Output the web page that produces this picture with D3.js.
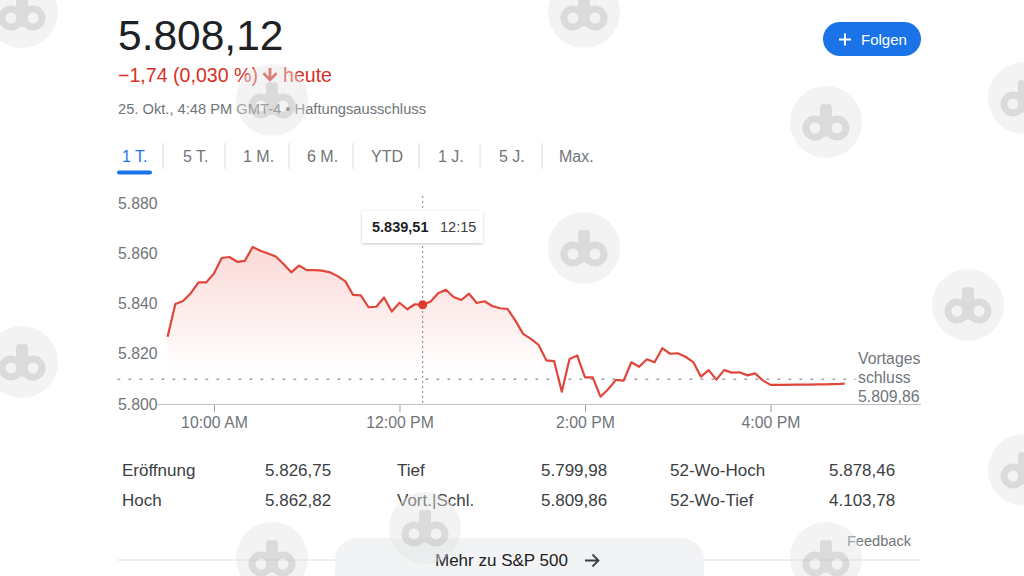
<!DOCTYPE html>
<html><head><meta charset="utf-8">
<script src="https://cdn.jsdelivr.net/npm/d3@7"></script>
<style>
html,body{margin:0;padding:0;background:#fff;}
svg{display:block;font-family:Arial,"Liberation Sans",sans-serif;}
</style></head>
<body><svg id="c" width="1024" height="576"></svg>
<script>
// ---------- data ----------
const priceTimes = ["09:30","09:35","09:40","09:45","09:50","09:55","10:00","10:05","10:10","10:15","10:20","10:25","10:30","10:35","10:40","10:45","10:50","10:55",
"11:00","11:05","11:10","11:15","11:20","11:25","11:30","11:35","11:40","11:45","11:50","11:55","12:00","12:05","12:10","12:15","12:20","12:25",
"12:30","12:35","12:40","12:45","12:50","12:55","13:00","13:05","13:10","13:15","13:20","13:25","13:30","13:35","13:40","13:45","13:50","13:55",
"14:00","14:05","14:10","14:15","14:20","14:25","14:30","14:35","14:40","14:45","14:50","14:55","15:00","15:05","15:10","15:15","15:20","15:25",
"15:30","15:35","15:40","15:45","15:50","15:55","16:00","16:05","16:10","16:15","16:20","16:25","16:30","16:35","16:40","16:45","16:48"];
const priceValues = [5826.75,5839.8,5841.0,5844.1,5848.4,5848.4,5851.9,5858.1,5858.5,5856.6,5857.0,5862.5,5861.0,5859.9,5858.7,5855.7,5852.4,5855.1,
5853.3,5853.3,5853.1,5852.4,5850.9,5848.8,5843.4,5843.2,5838.5,5838.7,5842.4,5836.8,5840.3,5837.7,5839.7,5839.51,5840.7,5844.1,
5845.5,5842.6,5841.4,5843.9,5840.2,5840.9,5839.0,5838.1,5837.8,5833.2,5827.9,5825.9,5823.5,5817.4,5817.1,5804.9,5817.9,5819.3,
5810.6,5810.6,5802.9,5805.9,5809.6,5809.3,5816.6,5814.8,5817.8,5816.6,5822.2,5820.0,5820.2,5818.8,5816.7,5810.9,5813.5,5809.7,
5813.5,5812.5,5812.6,5811.4,5812.2,5809.4,5807.6,5807.6,5807.6,5807.7,5807.7,5807.7,5807.8,5807.8,5807.9,5808.0,5808.12];
const prevClose = 5809.86;
const yTicks = [5800,5820,5840,5860,5880];
const xTickTimes = ["10:00","12:00","14:00","16:00"];
const hoverTime = "12:15";
const hoverValue = 5839.51;
const tabLabels = ["1 T.","5 T.","1 M.","6 M.","YTD","1 J.","5 J.","Max."];
const statLabels = [["Eröffnung","Hoch"],["Tief","Vort.|Schl."],["52-Wo-Hoch","52-Wo-Tief"]];
const statValues = [["5.826,75","5.862,82"],["5.799,98","5.809,86"],["5.878,46","4.103,78"]];
const headerPrice = "5.808,12";
const headerChange = "−1,74 (0,030 %)";
const headerDate = "25. Okt., 4:48 PM GMT-4 • Haftungsausschluss";

// ---------- setup ----------
const de = d3.formatLocale({decimal:",",thousands:".",grouping:[3],currency:["","€"]});
const fmtY = de.format(",.0f");
const fmt2 = de.format(",.2f");
const parseT = d3.timeParse("%Y-%m-%d %H:%M");
const T = s => parseT("2024-10-25 " + s);
const data = priceTimes.map((t,i)=>({t:T(t), v:priceValues[i]}));

const svg = d3.select("#c");
const RED = "#d93025", LINE = "#e0463a", GREY = "#70757a", DARK = "#202124";
const FF = "Arial,'Liberation Sans',sans-serif";

const x = d3.scaleTime().domain([T("09:30"), T("16:00")]).range([167.6, 770.5]);
const y = d3.scaleLinear().domain([5800, 5880]).range([404, 203]);

// ---------- header ----------
svg.append("text").attr("x",118).attr("y",50).attr("font-size",42.5).attr("fill",DARK).text(headerPrice);
const ch = svg.append("text").attr("x",118).attr("y",82).attr("font-size",19.6).attr("fill",RED).text(headerChange);
const chW = ch.node().getComputedTextLength();
const ax0 = 118 + chW + 12;
svg.append("path").attr("d",`M${ax0-1.4},68 h2.8 v8.5 l4.2,-4.2 l1.9,1.9 l-7.5,7.5 l-7.5,-7.5 l1.9,-1.9 l4.2,4.2 z`).attr("fill",RED);
svg.append("text").attr("x",ax0+13).attr("y",82).attr("font-size",19.6).attr("fill",RED).text("heute");
svg.append("text").attr("x",118).attr("y",114).attr("font-size",14.7).attr("fill",GREY).text(headerDate);

// follow button
svg.append("rect").attr("x",823).attr("y",22).attr("width",98).attr("height",34).attr("rx",17).attr("fill","#1a73e8");
svg.append("path").attr("d","M839,39.5 h12 M845,33.5 v12").attr("stroke","#fff").attr("stroke-width",2);
svg.append("text").attr("x",861).attr("y",45).attr("font-size",15).attr("font-weight",500).attr("fill","#fff").text("Folgen");

// ---------- tabs ----------
const tabX = [122,183,243,307,371,438,499,559];
const sepX = [163,225,289,353,419,480,542];
tabLabels.forEach((l,i)=>{
  svg.append("text").attr("x",tabX[i]).attr("y",162).attr("font-size",16)
    .attr("fill", i===0 ? "#1a73e8" : GREY).text(l);
});
sepX.forEach(s=>svg.append("line").attr("x1",s).attr("x2",s).attr("y1",143).attr("y2",169).attr("stroke","#dadce0"));
svg.append("rect").attr("x",117).attr("y",170.5).attr("width",35).attr("height",4).attr("rx",2).attr("fill","#1a73e8");

// ---------- chart ----------
const defs = svg.append("defs");
const grad = defs.append("linearGradient").attr("id","ag").attr("gradientUnits","userSpaceOnUse")
  .attr("x1",0).attr("x2",0).attr("y1",y(5862)).attr("y2",y(5812));
grad.append("stop").attr("offset",0).attr("stop-color","#e8453c").attr("stop-opacity",0.2);
grad.append("stop").attr("offset",1).attr("stop-color","#e8453c").attr("stop-opacity",0);

const area = d3.area().x(d=>x(d.t)).y0(y(5800)).y1(d=>y(d.v));
svg.append("path").datum(data).attr("d",area).attr("fill","url(#ag)");

// previous close dotted line
svg.append("line").attr("x1",118).attr("x2",855).attr("y1",y(prevClose)).attr("y2",y(prevClose))
  .attr("stroke","#9aa0a6").attr("stroke-width",1.6).attr("stroke-dasharray","1.6,9.4").attr("stroke-linecap","round");

// y axis labels
const ya = svg.append("g").attr("transform","translate(118,0)")
  .call(d3.axisRight(y).tickValues(yTicks).tickSize(0).tickPadding(0).tickFormat(fmtY));
ya.select(".domain").remove();
ya.selectAll("text").attr("font-size",15.8).attr("fill",GREY).attr("font-family",FF);

// x axis
const xa = svg.append("g").attr("transform",`translate(0,${y(5800)})`)
  .call(d3.axisBottom(x).tickValues(xTickTimes.map(T)).tickSize(8).tickPadding(5).tickFormat(d3.timeFormat("%-I:%M %p")));
xa.select(".domain").remove();
xa.selectAll(".tick line").attr("stroke","#9aa0a6");
xa.selectAll("text").attr("font-size",15.8).attr("fill",GREY).attr("font-family",FF);
svg.append("line").attr("x1",158).attr("x2",921).attr("y1",y(5800)+0.5).attr("y2",y(5800)+0.5).attr("stroke","#bdc1c6").attr("stroke-width",1.2);

// hover vertical line
const hx = x(T(hoverTime));
svg.append("line").attr("x1",hx).attr("x2",hx).attr("y1",196).attr("y2",y(5800))
  .attr("stroke","#80868b").attr("stroke-width",1).attr("stroke-dasharray","2,3");

// price line
const line = d3.line().x(d=>x(d.t)).y(d=>y(d.v));
svg.append("path").datum(data).attr("d",line).attr("fill","none").attr("stroke",LINE).attr("stroke-width",2.2).attr("stroke-linejoin","round");

// hover dot
svg.append("circle").attr("cx",hx).attr("cy",y(hoverValue)).attr("r",4.5).attr("fill","#e03a2e");

// tooltip
const f = defs.append("filter").attr("id","sh").attr("x","-20%").attr("y","-30%").attr("width","140%").attr("height","170%");
f.append("feDropShadow").attr("dx",0).attr("dy",1).attr("stdDeviation",1.5).attr("flood-color","#000").attr("flood-opacity",0.22);
svg.append("rect").attr("x",362).attr("y",211).attr("width",121).attr("height",32).attr("rx",2).attr("fill","#fff").attr("filter","url(#sh)");
svg.append("text").attr("x",372).attr("y",232).attr("font-size",14.5).attr("font-weight",600).attr("fill",DARK).text(fmt2(hoverValue));
svg.append("text").attr("x",440).attr("y",232).attr("font-size",14.5).attr("fill","#3c4043").text(hoverTime);

// right labels
["Vortages","schluss",fmt2(prevClose)].forEach((t,i)=>{
  svg.append("text").attr("x",858).attr("y",364+i*19).attr("font-size",15.8).attr("fill",GREY).text(t);
});

// ---------- stats ----------
const colLX = [122,397,670], colVX = [265,541,829];
statLabels.forEach((col,c)=>col.forEach((l,r)=>{
  svg.append("text").attr("x",colLX[c]).attr("y",476+r*29.5).attr("font-size",17).attr("fill","#3c4043").text(l);
  svg.append("text").attr("x",colVX[c]).attr("y",476+r*29.5).attr("font-size",17).attr("fill","#3c4043").text(statValues[c][r]);
}));
svg.append("text").attr("x",911).attr("y",546).attr("text-anchor","end").attr("font-size",14.6).attr("fill",GREY).text("Feedback");

// bottom bar
svg.append("line").attr("x1",118).attr("x2",921).attr("y1",560).attr("y2",560).attr("stroke","#dadce0");
svg.append("rect").attr("x",335).attr("y",538).attr("width",369).attr("height",60).attr("rx",22).attr("fill","#f1f3f4");
svg.append("text").attr("x",435).attr("y",566).attr("font-size",17).attr("font-weight",500).attr("fill",DARK).text("Mehr zu S&P 500");
svg.append("path").attr("d","M585,560.5 h13 M592.5,554.5 l6,6 l-6,6").attr("stroke","#3c4043").attr("stroke-width",1.8).attr("fill","none");

// ---------- watermark overlays ----------
const wmCenters = [[22,12],[584,12],[272,100],[1024,98],[826,122],[584,248],[968,305],[22,362],[1024,470],[425,528],[272,558],[826,558]];
const wm = svg.append("g").attr("opacity",0.55);
wmCenters.forEach(([cx,cy])=>{
  const g = wm.append("g").attr("transform",`translate(${cx},${cy})`);
  g.append("circle").attr("r",36).attr("fill","#e4e4e4").attr("opacity",0.8);
  g.append("circle").attr("cx",-11).attr("cy",6).attr("r",9).attr("fill","none").attr("stroke","#bdbdbd").attr("stroke-width",7);
  g.append("circle").attr("cx",11).attr("cy",6).attr("r",9).attr("fill","none").attr("stroke","#bdbdbd").attr("stroke-width",7);
  g.append("rect").attr("x",-6).attr("y",-18).attr("width",7).attr("height",33).attr("rx",3.5).attr("fill","#bdbdbd");
  g.append("rect").attr("x",-1).attr("y",-18).attr("width",7).attr("height",33).attr("rx",3.5).attr("fill","#bdbdbd");
});
</script></body></html>
